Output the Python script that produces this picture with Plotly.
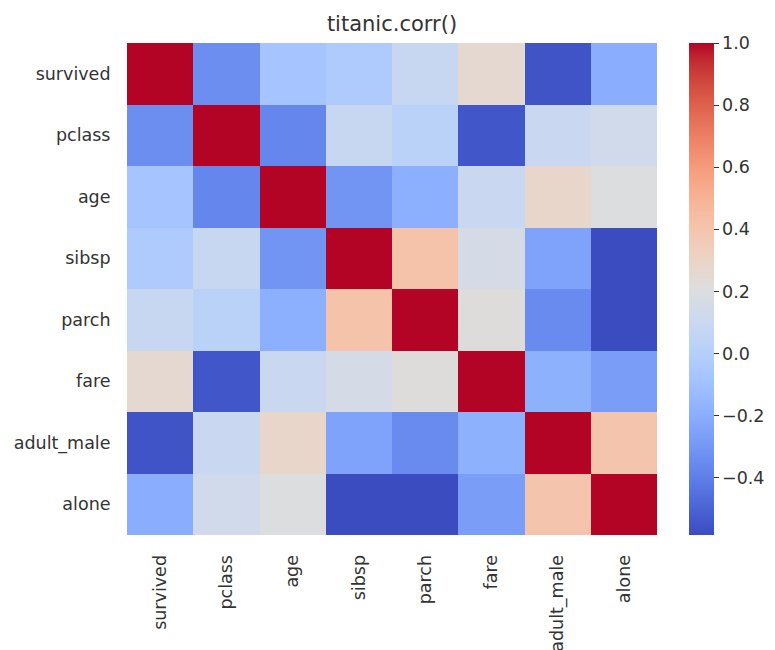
import plotly.graph_objects as go

# Columns of the titanic correlation matrix
labels = ["survived", "pclass", "age", "sibsp", "parch", "fare", "adult_male", "alone"]

# Pairwise correlations (upper triangle, row by row)
survived_row = [1.0, -0.338481, -0.077221, -0.035322, 0.081629, 0.257307, -0.557080, -0.203367]
pclass_row = [1.0, -0.369226, 0.083081, 0.018443, -0.549500, 0.094035, 0.135207]
age_row = [1.0, -0.308247, -0.189119, 0.096067, 0.280328, 0.198270]
sibsp_row = [1.0, 0.414838, 0.159651, -0.253586, -0.584471]
parch_row = [1.0, 0.216225, -0.349943, -0.583398]
fare_row = [1.0, -0.182024, -0.271832]
adult_male_row = [1.0, 0.404744]
alone_row = [1.0]

upper = [survived_row, pclass_row, age_row, sibsp_row, parch_row, fare_row, adult_male_row, alone_row]
n = len(labels)
corr = [[0.0] * n for _ in range(n)]
for i, row in enumerate(upper):
    for k, v in enumerate(row):
        j = i + k
        corr[i][j] = v
        corr[j][i] = v

colorbar_ticks = [-0.4, -0.2, 0.0, 0.2, 0.4, 0.6, 0.8, 1.0]

# Diverging blue-white-red (coolwarm) colour map
cw = [
    (59, 76, 192), (68, 90, 204), (77, 104, 215), (87, 117, 225), (98, 130, 234),
    (108, 142, 241), (119, 154, 247), (130, 165, 251), (141, 176, 254), (152, 185, 255),
    (163, 194, 255), (174, 201, 253), (184, 208, 249), (194, 213, 244), (204, 217, 238),
    (213, 219, 230), (221, 221, 221), (229, 216, 209), (236, 211, 197), (241, 204, 184),
    (245, 196, 172), (247, 187, 160), (247, 177, 148), (247, 166, 135), (244, 154, 123),
    (241, 141, 111), (236, 127, 99), (229, 112, 88), (222, 96, 77), (213, 80, 66),
    (203, 62, 56), (192, 40, 47), (180, 4, 38),
]
colorscale = [[i / (len(cw) - 1), "rgb(%d,%d,%d)" % c] for i, c in enumerate(cw)]

zmin = min(min(r) for r in corr)

TXT = "#333333"
FS = 17.5

# plot area in pixels
L, R, T, B = 127, 657, 43, 535
W, H = 775, 650

fig = go.Figure(
    go.Heatmap(
        z=corr,
        x=labels,
        y=labels,
        colorscale=colorscale,
        zmin=zmin,
        zmax=1.0,
        xgap=0,
        ygap=0,
        colorbar=dict(
            x=(689 - L) / (R - L),
            xanchor="left",
            xpad=0,
            y=0.5,
            yanchor="middle",
            ypad=0,
            len=1.0,
            lenmode="fraction",
            thickness=25,
            outlinewidth=0,
            tickvals=colorbar_ticks,
            ticktext=["%.1f" % t if t >= 0 else "\u2212%.1f" % abs(t) for t in colorbar_ticks],
            ticks="outside",
            ticklen=5,
            tickwidth=1,
            tickcolor=TXT,
            tickfont=dict(family="DejaVu Sans", size=FS, color=TXT),
        ),
    )
)

fig.update_layout(
    width=W,
    height=H,
    margin=dict(l=L, r=W - R, t=T, b=H - B, autoexpand=False),
    paper_bgcolor="white",
    plot_bgcolor="white",
    title=dict(
        text="titanic.corr()",
        x=(L + R) / 2 / W,
        xanchor="center",
        y=1 - 24 / H,
        yanchor="middle",
        font=dict(family="DejaVu Sans", size=21, color=TXT),
    ),
    font=dict(family="DejaVu Sans", size=FS, color=TXT),
)
fig.update_xaxes(
    automargin=False,
    tickangle=-90,
    ticks="outside",
    ticklen=12,
    tickcolor="rgba(0,0,0,0)",
    showgrid=False,
    zeroline=False,
    showline=False,
    tickfont=dict(family="DejaVu Sans", size=FS, color=TXT),
)
fig.update_yaxes(
    automargin=False,
    autorange="reversed",
    ticks="outside",
    ticklen=12,
    tickcolor="rgba(0,0,0,0)",
    showgrid=False,
    zeroline=False,
    showline=False,
    tickfont=dict(family="DejaVu Sans", size=FS, color=TXT),
)

fig.write_html("out.html")
